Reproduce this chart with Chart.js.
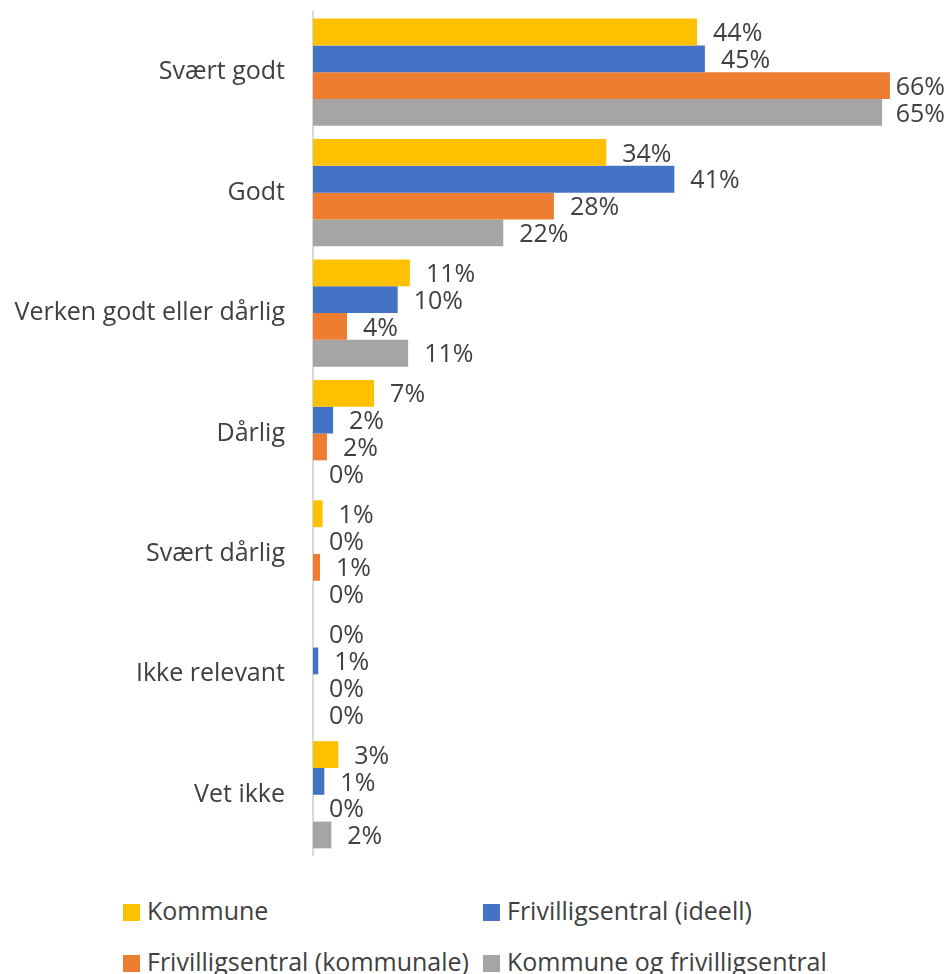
<!DOCTYPE html>
<html>
<head>
<meta charset="utf-8">
<script src="https://cdn.jsdelivr.net/npm/chart.js@4"></script>
<style>
  body { margin: 0; background: #fff; }
  #wrap { position: relative; width: 948px; height: 974px; overflow: hidden; }
  #box { position: absolute; left: 0; top: 0; width: 948px; height: 1100px; }
  .leg { position: absolute; font: 25px "Open Sans", sans-serif; color: #404040; line-height: 30px; white-space: nowrap; }
  .leg span { display: inline-block; width: 17px; height: 17px; margin-right: 7px; vertical-align: -1px; }
</style>
</head>
<body>
<div id="wrap">
  <div id="box"><canvas id="chart" width="948" height="900"></canvas></div>
  <div id="legend"></div>
</div>
<script>
const categories = ["Svært godt", "Godt", "Verken godt eller dårlig", "Dårlig", "Svært dårlig", "Ikke relevant", "Vet ikke"];
const seriesNames = ["Kommune", "Frivilligsentral (ideell)", "Frivilligsentral (kommunale)", "Kommune og frivilligsentral"];
const kommune = [44.0, 33.6, 11.1, 7.0, 1.1, 0, 2.9];
const ideell = [44.9, 41.4, 9.7, 2.3, 0, 0.6, 1.3];
const kommunale = [66.1, 27.6, 3.9, 1.6, 0.8, 0, 0];
const begge = [65.2, 21.8, 10.9, 0, 0, 0, 2.1];
const colors = ["#FFC000", "#4472C4", "#ED7D31", "#A5A5A5"];

const FONT = '"Open Sans", sans-serif';
const PLOT_TOP = 12, PLOT_BOTTOM = 855; // wanted axis extent on the page

const valueLabels = {
  id: "valueLabels",
  afterDatasetsDraw(chart) {
    const ctx = chart.ctx;
    ctx.save();
    ctx.font = "25px " + FONT;
    ctx.fillStyle = "#404040";
    ctx.textBaseline = "middle";
    ctx.textAlign = "left";
    chart.data.datasets.forEach((ds, i) => {
      chart.getDatasetMeta(i).data.forEach((bar, j) => {
        const txt = Math.round(ds.data[j]) + "%";
        const w = ctx.measureText(txt).width;
        let x = bar.x + 16;
        if (x + w > 945) x = 945 - w;
        ctx.fillText(txt, x, bar.y + 2);
      });
    });
    ctx.restore();
  }
};

const canvas = document.getElementById("chart");
const chart = new Chart(canvas, {
  type: "bar",
  data: {
    labels: categories,
    datasets: [kommune, ideell, kommunale, begge].map((d, i) => ({
      label: seriesNames[i],
      data: d,
      backgroundColor: colors[i],
      borderWidth: 0,
      barPercentage: 1,
      categoryPercentage: 0.89
    }))
  },
  options: {
    indexAxis: "y",
    responsive: false,
    maintainAspectRatio: false,
    animation: false,
    layout: { padding: { top: 0, bottom: 0, left: 0, right: 24 } },
    scales: {
      x: { display: false, min: 0, max: 70 },
      y: {
        grid: { display: false },
        border: { display: true, color: "#d9d9d9", width: 2 },
        ticks: { color: "#404040", font: { family: FONT, size: 25 }, padding: 20 },
        afterFit(scale) { scale.width = 313; }
      }
    },
    plugins: { legend: { display: false }, tooltip: { enabled: false } }
  },
  plugins: [valueLabels]
});

// fit the plot area to the wanted height, then shift the canvas so it lines up
let h = 900;
for (let k = 0; k < 5; k++) {
  const ca = chart.chartArea;
  const extra = (PLOT_BOTTOM - PLOT_TOP) - (ca.bottom - ca.top);
  if (Math.abs(extra) < 0.5) break;
  h += Math.round(extra);
  chart.resize(948, h);
}
document.getElementById("box").style.top = (PLOT_TOP - chart.chartArea.top) + "px";

// legend in two columns
const legendPos = [[123, 895], [483, 895], [123, 946], [483, 946]];
const legend = document.getElementById("legend");
seriesNames.forEach((name, i) => {
  const d = document.createElement("div");
  d.className = "leg";
  d.style.left = legendPos[i][0] + "px";
  d.style.top = legendPos[i][1] + "px";
  d.innerHTML = '<span style="background:' + colors[i] + '"></span>' + name;
  legend.appendChild(d);
});
</script>
</body>
</html>
